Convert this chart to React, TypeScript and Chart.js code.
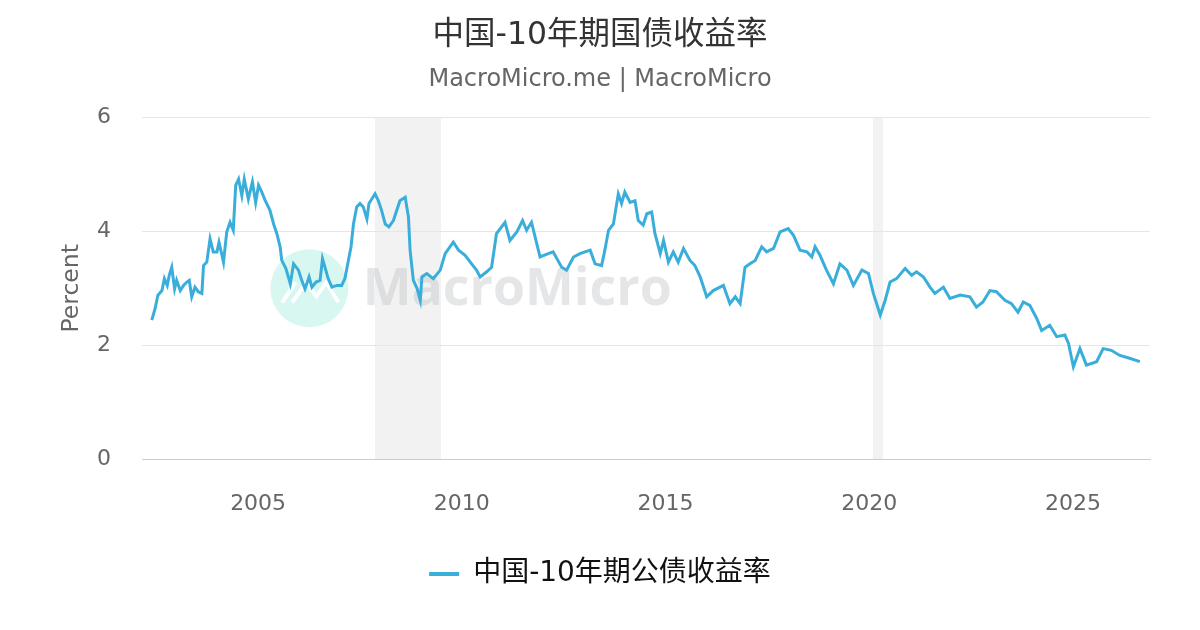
import React, { useEffect, useRef } from 'react';
import { Chart, registerables } from 'chart.js';

Chart.register(...registerables);

const TITLE = '中国-10年期国债收益率';
const SUBTITLE = 'MacroMicro.me | MacroMicro';
const SERIES_LABEL = '中国-10年期公债收益率';
const Y_TITLE = 'Percent';
const WATERMARK = 'MacroMicro';

const X_TICKS = [2005, 2010, 2015, 2020, 2025];
const Y_TICKS = [0, 2, 4, 6];
const X_MIN = 2002.15;
const X_MAX = 2026.89;

const RECESSION_START = [2007.87, 2020.09];
const RECESSION_END = [2009.49, 2020.34];

// decimal-year dates and yields (%)
const DATES_2002_2008 = [
  2002.39, 2002.47, 2002.54, 2002.64, 2002.7, 2002.77, 2002.82, 2002.88, 2002.95, 2003.0,
  2003.09, 2003.17, 2003.25, 2003.31, 2003.37, 2003.45, 2003.53, 2003.62, 2003.66, 2003.74,
  2003.82, 2003.9, 2003.99, 2004.04, 2004.15, 2004.23, 2004.31, 2004.39, 2004.45, 2004.52,
  2004.6, 2004.66, 2004.76, 2004.86, 2004.94, 2005.01, 2005.09, 2005.17, 2005.29, 2005.38,
  2005.46, 2005.54, 2005.58, 2005.68, 2005.79, 2005.87, 2005.99, 2006.07, 2006.15, 2006.25,
  2006.32, 2006.42, 2006.52, 2006.58, 2006.64, 2006.72, 2006.81, 2006.93, 2007.05, 2007.13,
  2007.2, 2007.28, 2007.34, 2007.42, 2007.5, 2007.58, 2007.67, 2007.72, 2007.79, 2007.87,
  2007.95, 2008.03, 2008.12, 2008.21,
];
const YIELDS_2002_2008 = [
  2.44, 2.64, 2.88, 2.96, 3.17, 3.05, 3.23, 3.37, 2.99, 3.14,
  2.96, 3.05, 3.11, 3.14, 2.85, 3.02, 2.94, 2.91, 3.4, 3.46,
  3.87, 3.64, 3.64, 3.81, 3.46, 3.99, 4.16, 4.02, 4.81, 4.92,
  4.63, 4.92, 4.57, 4.87, 4.51, 4.81, 4.69, 4.55, 4.37, 4.13,
  3.96, 3.73, 3.49, 3.35, 3.08, 3.43, 3.32, 3.14, 2.99, 3.2,
  3.02, 3.11, 3.14, 3.52, 3.37, 3.17, 3.02, 3.05, 3.05, 3.17,
  3.43, 3.73, 4.13, 4.43, 4.49, 4.43, 4.22, 4.49, 4.57, 4.66,
  4.54, 4.37, 4.13, 4.08,
];

const DATES_2008_2018 = [
  2008.32, 2008.48, 2008.61, 2008.69, 2008.73, 2008.81, 2008.9, 2008.98, 2009.02, 2009.14,
  2009.3, 2009.47, 2009.59, 2009.79, 2009.92, 2010.08, 2010.24, 2010.36, 2010.45, 2010.61,
  2010.73, 2010.85, 2011.06, 2011.18, 2011.35, 2011.49, 2011.59, 2011.71, 2011.84, 2011.92,
  2012.12, 2012.24, 2012.45, 2012.57, 2012.74, 2012.9, 2013.15, 2013.27, 2013.43, 2013.51,
  2013.6, 2013.72, 2013.84, 2013.92, 2014.0, 2014.13, 2014.25, 2014.33, 2014.45, 2014.54,
  2014.66, 2014.74, 2014.87, 2014.95, 2015.07, 2015.19, 2015.31, 2015.44, 2015.6, 2015.72,
  2015.85, 2016.01, 2016.17, 2016.42, 2016.58, 2016.71, 2016.83, 2016.95, 2017.07, 2017.2,
  2017.36, 2017.48, 2017.65, 2017.81, 2018.01, 2018.14, 2018.3, 2018.47, 2018.59, 2018.67,
];
const YIELDS_2008_2018 = [
  4.19, 4.54, 4.6, 4.25, 3.67, 3.14, 3.0, 2.79, 3.2, 3.26,
  3.17, 3.32, 3.61, 3.81, 3.67, 3.58, 3.43, 3.32, 3.2, 3.29,
  3.37, 3.96, 4.16, 3.84, 3.99, 4.19, 4.02, 4.16, 3.78, 3.55,
  3.61, 3.64, 3.37, 3.32, 3.55, 3.61, 3.67, 3.43, 3.4, 3.67,
  4.02, 4.13, 4.66, 4.49, 4.69, 4.51, 4.54, 4.19, 4.11, 4.31,
  4.34, 3.96, 3.61, 3.84, 3.46, 3.64, 3.46, 3.7, 3.49, 3.4,
  3.2, 2.85, 2.96, 3.05, 2.73, 2.85, 2.73, 3.37, 3.43, 3.49,
  3.73, 3.64, 3.7, 3.99, 4.05, 3.93, 3.67, 3.64, 3.55, 3.73,
];

const DATES_2018_2026 = [
  2018.79, 2018.95, 2019.12, 2019.28, 2019.45, 2019.61, 2019.82, 2019.98, 2020.1, 2020.27,
  2020.39, 2020.51, 2020.67, 2020.88, 2021.04, 2021.16, 2021.33, 2021.49, 2021.61, 2021.82,
  2021.98, 2022.23, 2022.47, 2022.63, 2022.79, 2022.96, 2023.12, 2023.33, 2023.49, 2023.65,
  2023.78, 2023.94, 2024.11, 2024.23, 2024.43, 2024.6, 2024.8, 2024.89, 2025.01, 2025.17,
  2025.33, 2025.58, 2025.74, 2025.94, 2026.15, 2026.39, 2026.64,
];
const YIELDS_2018_2026 = [
  3.58, 3.32, 3.08, 3.43, 3.32, 3.05, 3.32, 3.26, 2.91, 2.53,
  2.79, 3.11, 3.17, 3.35, 3.23, 3.29, 3.2, 3.02, 2.91, 3.02,
  2.82, 2.88, 2.85, 2.67, 2.76, 2.96, 2.94, 2.79, 2.73, 2.58,
  2.76, 2.7, 2.47, 2.26, 2.35, 2.15, 2.18, 2.03, 1.62, 1.94,
  1.65, 1.71, 1.94, 1.91, 1.82, 1.77, 1.71,
];

const DATES = [...DATES_2002_2008, ...DATES_2008_2018, ...DATES_2018_2026];
const YIELDS = [...YIELDS_2002_2008, ...YIELDS_2008_2018, ...YIELDS_2018_2026];

const LINE_COLOR = '#3aaedb';
const FONT = "'DejaVu Sans', 'Noto Sans CJK SC', sans-serif";

const backgroundPlugin = {
  id: 'mmBackground',
  beforeDraw(chart: any) {
    const { ctx, chartArea, scales } = chart;
    const x = scales.x;
    ctx.save();
    ctx.fillStyle = '#f2f2f2';
    RECESSION_START.forEach((s, i) => {
      const x0 = x.getPixelForValue(s);
      const x1 = x.getPixelForValue(RECESSION_END[i]);
      ctx.fillRect(x0, chartArea.top, x1 - x0, chartArea.bottom - chartArea.top);
    });
    ctx.restore();
  },
  beforeDatasetsDraw(chart: any) {
    const { ctx, chartArea } = chart;
    const w = chartArea.right - chartArea.left;
    const h = chartArea.bottom - chartArea.top;
    const cx = chartArea.left + w * 0.166;
    const cy = chartArea.top + h * 0.5;
    ctx.save();
    ctx.fillStyle = 'rgba(205, 245, 236, 0.8)';
    ctx.beginPath();
    ctx.arc(cx, cy, 39, 0, Math.PI * 2);
    ctx.fill();
    ctx.strokeStyle = '#ffffff';
    ctx.lineWidth = 4;
    ctx.lineJoin = 'miter';
    ctx.beginPath();
    ctx.moveTo(cx - 27, cy + 14);
    ctx.lineTo(cx - 14, cy - 6);
    ctx.moveTo(cx - 17, cy + 14);
    ctx.lineTo(cx - 3, cy - 6);
    ctx.lineTo(cx + 7, cy + 8);
    ctx.lineTo(cx + 17, cy - 6);
    ctx.lineTo(cx + 29, cy + 14);
    ctx.stroke();
    ctx.fillStyle = 'rgba(190, 192, 196, 0.4)';
    ctx.font = "bold 54px 'Open Sans', 'DejaVu Sans', sans-serif";
    const tw = ctx.measureText(WATERMARK).width;
    const target = 309;
    const size = 54 * (target / tw);
    ctx.font = `bold ${size}px 'Open Sans', 'DejaVu Sans', sans-serif`;
    ctx.textBaseline = 'middle';
    ctx.textAlign = 'left';
    ctx.fillText(WATERMARK, chartArea.left + w * 0.219, cy + 2);
    ctx.restore();
  },
};

export default function App() {
  const canvasRef = useRef<HTMLCanvasElement | null>(null);

  useEffect(() => {
    document.body.style.margin = '0';
    const canvas = canvasRef.current;
    if (!canvas) return;
    Chart.defaults.font.family = FONT;
    const points = DATES.map((d, i) => ({ x: d, y: YIELDS[i] }));
    const chart = new Chart(canvas, {
      type: 'line',
      data: {
        datasets: [
          {
            label: SERIES_LABEL,
            data: points,
            borderColor: LINE_COLOR,
            backgroundColor: LINE_COLOR,
            borderWidth: 3,
            pointRadius: 0,
            tension: 0,
            yAxisID: 'y',
          },
        ],
      },
      plugins: [backgroundPlugin],
      options: {
        animation: false,
        responsive: true,
        maintainAspectRatio: false,
        layout: { padding: { left: 0, right: 0, top: 0, bottom: 32 } },
        plugins: {
          title: {
            display: true,
            text: TITLE,
            color: '#333333',
            font: { size: 31.5, weight: 'normal', family: FONT },
            padding: { top: 17, bottom: 2 },
          },
          subtitle: {
            display: true,
            text: SUBTITLE,
            color: '#666666',
            font: { size: 24, weight: 'normal', family: FONT },
            padding: { top: 9, bottom: 23 },
          },
          legend: {
            display: true,
            position: 'bottom',
            labels: {
              color: '#111111',
              font: { size: 28, family: FONT },
              boxWidth: 30,
              boxHeight: 4,
              padding: 12,
              generateLabels: () => [
                {
                  text: SERIES_LABEL,
                  fillStyle: LINE_COLOR,
                  strokeStyle: LINE_COLOR,
                  lineWidth: 0,
                  hidden: false,
                  datasetIndex: 0,
                  fontColor: '#111111',
                },
              ],
            },
          },
          tooltip: { enabled: false },
        },
        scales: {
          x: {
            type: 'linear',
            min: X_MIN,
            max: X_MAX,
            afterFit: (scale: any) => {
              scale.height = 89;
            },
            afterBuildTicks: (scale: any) => {
              scale.ticks = X_TICKS.map((v) => ({ value: v }));
            },
            grid: { display: false, drawTicks: false },
            border: { display: true, color: '#cccccc', width: 1 },
            ticks: {
              color: '#666666',
              font: { size: 22, family: FONT },
              padding: 32,
              autoSkip: false,
              maxRotation: 0,
              callback: (v: any) => String(v),
            },
          },
          y: {
            position: 'left',
            min: 0,
            max: 6,
            afterFit: (scale: any) => {
              scale.width = 142;
            },
            afterBuildTicks: (scale: any) => {
              scale.ticks = Y_TICKS.map((v) => ({ value: v }));
            },
            grid: { color: '#e6e6e6', drawTicks: false, lineWidth: 1 },
            border: { display: false },
            ticks: {
              color: '#666666',
              font: { size: 22, family: FONT },
              padding: 31,
              callback: (v: any) => String(v),
            },
            title: {
              display: true,
              text: Y_TITLE,
              color: '#666666',
              font: { size: 23.5, family: FONT },
              padding: { top: 58, bottom: 0 },
            },
          },
          yRight: {
            position: 'right',
            display: true,
            min: 0,
            max: 6,
            afterFit: (scale: any) => {
              scale.width = 50;
            },
            grid: { display: false, drawTicks: false },
            border: { display: false },
            ticks: { display: false },
          },
        },
      },
    });
    return () => chart.destroy();
  }, []);

  return (
    <div style={{ position: 'absolute', left: 0, top: 0, width: 1200, height: 630, background: '#ffffff' }}>
      <canvas ref={canvasRef} />
    </div>
  );
}
